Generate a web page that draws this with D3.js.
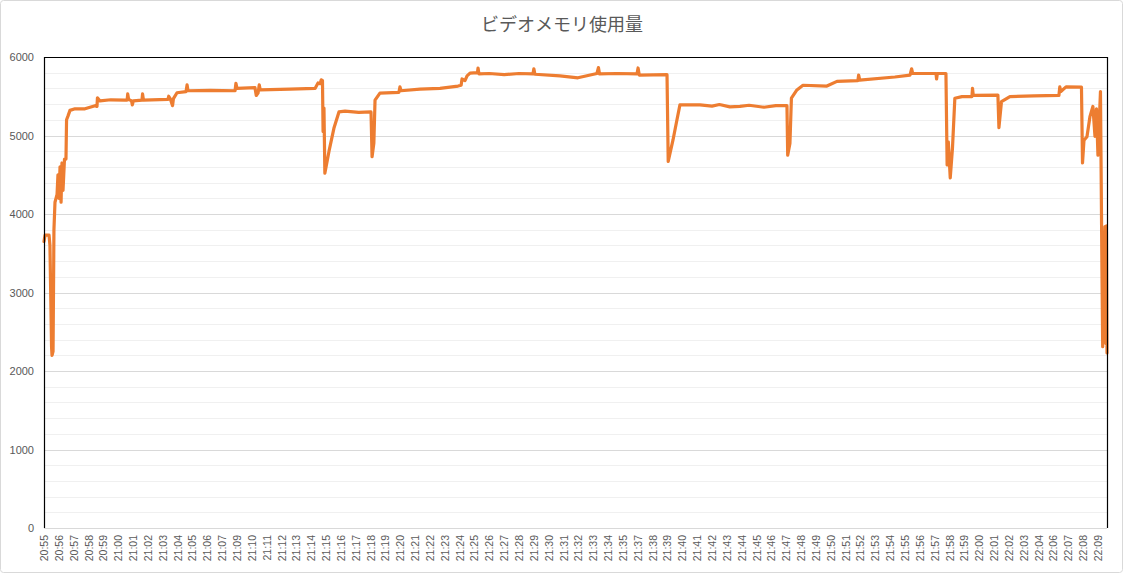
<!DOCTYPE html>
<html><head><meta charset="utf-8">
<script src="https://cdn.jsdelivr.net/npm/d3@7"></script>
<style>
html,body{margin:0;padding:0;background:#fff;}
svg{display:block;}
</style></head>
<body>
<svg id="chart" width="1123" height="573"></svg>
<script>
const title = "ビデオメモリ使用量";
const timeLabels = ["20:55","20:56","20:57","20:58","20:59","21:00","21:01","21:02","21:03","21:04","21:05","21:06","21:07","21:09","21:10","21:11","21:12","21:13","21:14","21:15","21:16","21:17","21:18","21:19","21:20","21:21","21:22","21:23","21:24","21:25","21:26","21:27","21:28","21:29","21:30","21:31","21:32","21:33","21:34","21:35","21:37","21:38","21:39","21:40","21:41","21:42","21:43","21:44","21:45","21:46","21:47","21:48","21:49","21:50","21:51","21:52","21:53","21:54","21:55","21:56","21:57","21:58","21:59","22:00","22:01","22:02","22:03","22:04","22:06","22:07","22:08","22:09"];
const yTicks = [0,1000,2000,3000,4000,5000,6000];
// sample position in category-label units
const samplePos = [0,0.07,0.34,0.40,0.51,0.54,0.61,0.67,0.74,0.88,0.94,1.01,1.08,1.15,1.21,1.28,1.38,1.48,1.52,1.62,1.75,2.09,2.76,3.44,3.57,3.60,3.77,4.5,5.46,5.60,5.64,5.70,5.90,5.95,6.02,6.60,6.64,6.70,8.35,8.40,8.50,8.66,8.72,8.96,9.57,9.64,9.70,11.2,12.87,12.93,13.00,14.21,14.30,14.42,14.50,14.57,16.57,18.26,18.46,18.60,18.68,18.76,18.80,18.86,18.92,19.20,19.54,19.87,20.28,21.2,22.03,22.10,22.22,22.30,22.63,23.91,23.98,24.05,25.33,26.68,27.89,28.10,28.16,28.36,28.50,28.70,29.20,29.24,29.30,30.0,31.0,32.0,32.94,33.00,33.07,34.76,35.97,37.25,37.35,37.42,38.6,39.95,40.02,40.10,41.97,42.05,42.37,42.64,42.84,44.19,45.0,45.5,46.2,46.88,47.5,48.5,49.3,50.05,50.10,50.25,50.35,50.72,51.13,52.74,53.42,54.83,54.88,54.95,57.32,58.34,58.45,58.52,60.09,60.13,60.18,60.76,60.84,60.92,61.05,61.20,61.36,61.84,62.51,62.55,62.60,64.26,64.33,64.50,65.07,66.7,68.37,68.43,68.50,68.85,69.89,69.96,70.06,70.26,70.46,70.66,70.80,70.90,71.00,71.17,71.27,71.32,71.47,71.54,71.57,71.61];
const memoryMB = [3650,3730,3730,3600,2300,2200,2250,3800,4150,4250,4500,4200,4600,4150,4650,4300,4700,4700,5200,5250,5320,5340,5340,5380,5370,5480,5440,5455,5450,5450,5530,5460,5440,5390,5440,5450,5530,5450,5460,5500,5470,5380,5470,5545,5560,5645,5570,5575,5570,5665,5600,5610,5510,5540,5645,5580,5590,5600,5670,5660,5710,5700,5050,5350,4520,4800,5100,5300,5310,5295,5300,4730,4900,5450,5540,5550,5620,5570,5590,5600,5630,5640,5720,5700,5760,5795,5800,5860,5785,5790,5775,5790,5785,5850,5780,5760,5735,5790,5865,5785,5790,5785,5860,5770,5775,4670,4940,5200,5390,5390,5375,5395,5365,5370,5385,5360,5380,5380,4750,4900,5475,5580,5640,5630,5690,5700,5770,5705,5745,5770,5850,5790,5790,5720,5790,5790,4625,4920,4460,4840,5475,5495,5495,5600,5510,5515,5100,5430,5495,5505,5510,5620,5560,5620,5615,4650,4940,4985,5240,5370,4990,5340,4750,5560,3290,2310,3840,2350,3850,2230];

const svg = d3.select("#chart");
const W = 1123, H = 573;
const m = {left:44, right:1107, top:57, bottom:528};

svg.append("rect").attr("x",0.5).attr("y",0.5).attr("width",W-1).attr("height",H-1)
  .attr("rx",3).attr("fill","#fff").attr("stroke","#d9d9d9");

const x = d3.scaleLinear().domain([0, 71.61]).range([m.left, m.right]);
const y = d3.scaleLinear().domain([0, 6000]).range([m.bottom, m.top]);

// minor gridlines
const minor = d3.range(200, 6000, 200).filter(v => v % 1000 !== 0);
svg.append("g").selectAll("line").data(minor).join("line")
  .attr("x1", m.left).attr("x2", m.right)
  .attr("y1", d => Math.round(y(d))+0.5).attr("y2", d => Math.round(y(d))+0.5)
  .attr("stroke","#f0f0f0").attr("stroke-width",1);
// major gridlines
svg.append("g").selectAll("line").data(yTicks.filter(v=>v>0 && v<6000)).join("line")
  .attr("x1", m.left).attr("x2", m.right)
  .attr("y1", d => Math.round(y(d))+0.5).attr("y2", d => Math.round(y(d))+0.5)
  .attr("stroke","#d9d9d9").attr("stroke-width",1);
// bottom axis line
svg.append("line").attr("x1",m.left).attr("x2",m.right)
  .attr("y1",m.bottom+0.5).attr("y2",m.bottom+0.5).attr("stroke","#d9d9d9");

// y axis labels
const yAxis = d3.axisLeft(y).tickValues(yTicks).tickSize(0).tickPadding(10).tickFormat(d3.format("d"));
const gy = svg.append("g").attr("transform",`translate(${m.left},0)`).call(yAxis);
gy.select(".domain").remove();
gy.selectAll("text").attr("fill","#595959").style("font-family","'Liberation Sans',Arial,sans-serif").style("font-size","11px");

// x labels
const gx = svg.append("g");
gx.selectAll("text").data(timeLabels).join("text")
  .attr("transform",(d,i)=>`translate(${x(i)+4},${m.bottom+7}) rotate(-90)`)
  .attr("text-anchor","end")
  .attr("fill","#595959")
  .style("font-family","'Liberation Sans',Arial,sans-serif").style("font-size","10.5px")
  .text(d=>d);

// line
const pts = samplePos.map((p,i)=>[p, memoryMB[i]]);
const line = d3.line().x(d=>x(d[0])).y(d=>y(d[1]));
svg.append("path").datum(pts).attr("d",line)
  .attr("fill","none").attr("stroke","#ED7D31").attr("stroke-width",3.2)
  .attr("stroke-linejoin","round").attr("stroke-linecap","round");

// frame (black left/top/right)
svg.append("path")
  .attr("d",`M${m.left+0.5},${m.bottom} V${m.top+0.5} H${m.right+0.5} V${m.bottom}`)
  .attr("fill","none").attr("stroke","#000").attr("stroke-width",1.2);

// title
svg.append("text").attr("x",562).attr("y",31).attr("text-anchor","middle")
  .attr("fill","#595959").style("font-family","'Noto Sans CJK JP',sans-serif").style("font-size","18px")
  .text(title);
</script>
</body></html>
